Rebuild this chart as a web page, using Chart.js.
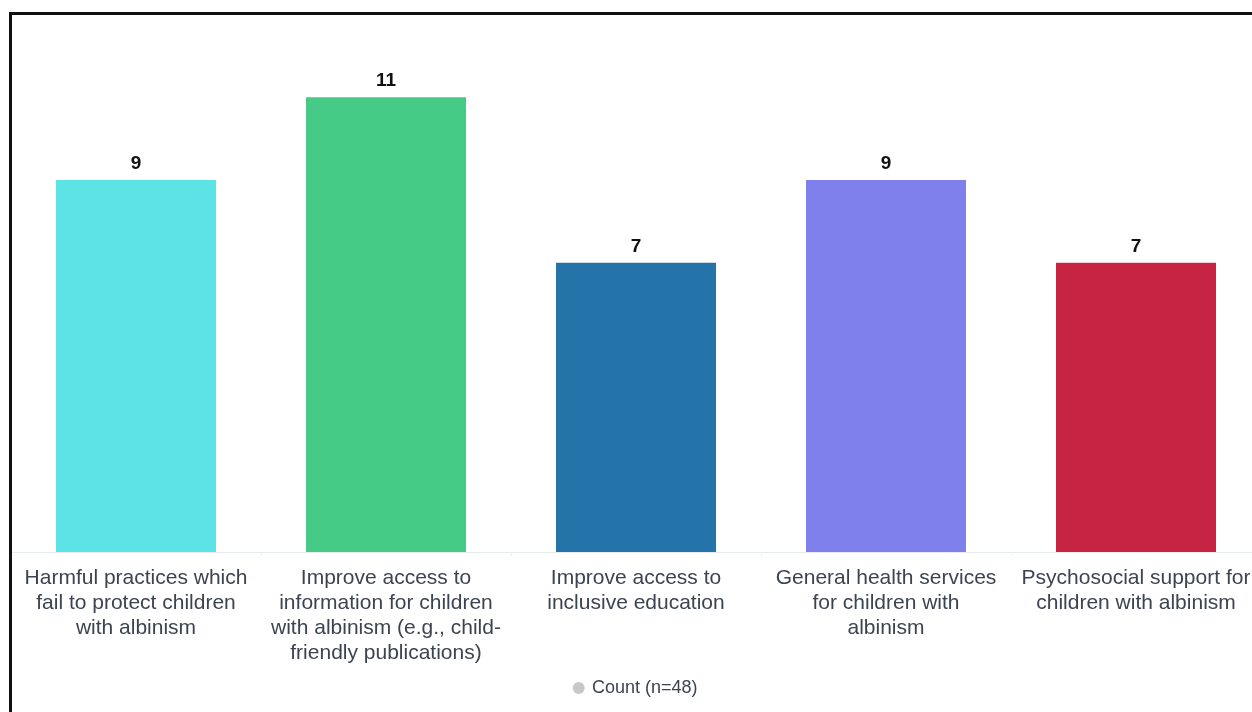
<!DOCTYPE html>
<html>
<head>
<meta charset="utf-8">
<script src="https://cdn.jsdelivr.net/npm/chart.js@4/dist/chart.umd.min.js"></script>
<style>
  html, body { margin: 0; padding: 0; background: #ffffff; overflow: hidden; width: 1252px; height: 712px; }
  #wrap { position: relative; width: 1252px; height: 712px; overflow: hidden; }
  #c { position: absolute; left: 0; top: 0; }
  #frame { position: absolute; left: 9px; top: 12px; width: 1300px; height: 760px;
           border-top: 3px solid #111; border-left: 3px solid #111; pointer-events: none; }
</style>
</head>
<body>
<div id="wrap">
  <canvas id="c" width="1270" height="712"></canvas>
  <div id="frame"></div>
</div>
<script>
const categories = [
  ["Harmful practices which", "fail to protect children", "with albinism"],
  ["Improve access to", "information for children", "with albinism (e.g., child-", "friendly publications)"],
  ["Improve access to", "inclusive education"],
  ["General health services", "for children with", "albinism"],
  ["Psychosocial support for", "children with albinism"]
];
const counts = [9, 11, 7, 9, 7];
const barColors = ["#5be3e6", "#46cb87", "#2474aa", "#8080ec", "#c72443"];
const seriesLabel = "Count (n=48)";

const valueLabels = {
  id: 'valueLabels',
  afterDatasetsDraw(chart) {
    const ctx = chart.ctx;
    const meta = chart.getDatasetMeta(0);
    ctx.save();
    ctx.font = "bold 19px 'Liberation Sans', Arial, sans-serif";
    ctx.fillStyle = "#111111";
    ctx.textAlign = "center";
    ctx.textBaseline = "alphabetic";
    meta.data.forEach((bar, i) => {
      ctx.fillText(String(chart.data.datasets[0].data[i]), bar.x, bar.y - 11);
    });
    ctx.restore();
  }
};

new Chart(document.getElementById('c'), {
  type: 'bar',
  data: {
    labels: categories,
    datasets: [{
      label: seriesLabel,
      data: counts,
      backgroundColor: barColors,
      borderWidth: 0,
      categoryPercentage: 1.0,
      barPercentage: 0.64
    }]
  },
  options: {
    responsive: false,
    animation: false,
    devicePixelRatio: 1,
    layout: { padding: { left: 11, right: 9, top: 56, bottom: 5 } },
    plugins: {
      tooltip: { enabled: false },
      legend: {
        display: true,
        position: 'bottom',
        labels: {
          usePointStyle: true,
          pointStyle: 'circle',
          boxWidth: 8.5,
          boxHeight: 8.5,
          color: '#3c4351',
          font: { family: "'Liberation Sans', Arial, sans-serif", size: 18 },
          generateLabels: (chart) => [{
            text: seriesLabel,
            fillStyle: '#c8c8c8',
            strokeStyle: '#c8c8c8',
            lineWidth: 0,
            pointStyle: 'circle',
            fontColor: '#3c4351',
            datasetIndex: 0,
            hidden: false
          }]
        }
      }
    },
    scales: {
      x: {
        offset: true,
        grid: { display: true, drawOnChartArea: false, offset: true, tickLength: 4, color: '#edf1f4' },
        border: { display: true, color: '#e6ebef', width: 1 },
        ticks: {
          color: '#3c4351',
          padding: 10,
          maxRotation: 0,
          autoSkip: false,
          font: { family: "'Liberation Sans', Arial, sans-serif", size: 21, lineHeight: 1.19 }
        },
        afterFit(scale) { scale.height = 117; }
      },
      y: {
        display: false,
        min: 0,
        max: 12
      }
    }
  },
  plugins: [valueLabels]
});
</script>
</body>
</html>
